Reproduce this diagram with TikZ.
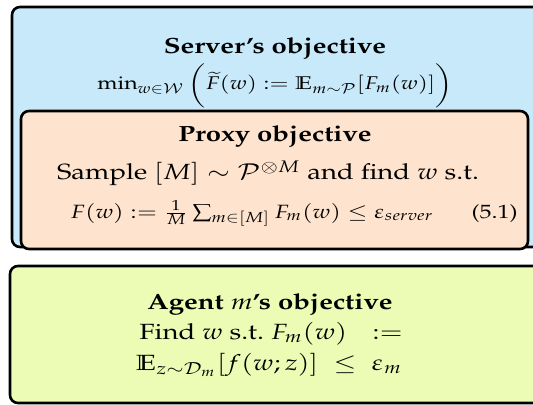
\documentclass[tikz,border=0pt]{standalone}
\usepackage[T1]{fontenc}
\usepackage{amsmath}
\usepackage{amssymb}
\usepackage{mathpazo}
\usepackage{graphicx}
\usepackage{tikz}
\definecolor{serverblue}{RGB}{199,233,249}
\definecolor{proxypeach}{RGB}{254,228,206}
\definecolor{agentgreen}{RGB}{237,252,181}
\newcommand{\widetxt}[1]{\scalebox{1.25}[1]{#1}}

\begin{document}
\begin{tikzpicture}[x=0.5pt,y=-0.5pt]
		\tikzset{objbox/.style={draw=black,line width=1.3pt,rounded corners=4pt},
			titletext/.style={anchor=base,inner sep=0pt,font=\fontsize{11}{13.5}\selectfont\bfseries},
			objtext/.style={anchor=base,inner sep=0pt,font=\fontsize{11}{13.5}\selectfont},
			eqtext/.style={anchor=base,inner sep=0pt,font=\fontsize{9.6}{12}\selectfont}};
		\useasboundingbox (0,0) rectangle (533,405);
		\clip (0,0) rectangle (533,405);
		% server box with the proxy box inside
		\draw[objbox,fill=serverblue] (12,7) rectangle (580,247);
		\draw[objbox,fill=proxypeach] (21,111) rectangle (528,249);
		\node[titletext] (servertitle) at (275,54) {\widetxt{Server's objective}};
		\node[objtext,font=\fontsize{9.2}{12}\selectfont] (servereq) at (275,90) {\widetxt{$\min_{w\in\mathcal{W}}\bigg(\widetilde{F}(w):=\mathbb{E}_{m\sim\mathcal{P}}[F_m(w)]\bigg)$}};
		\node[titletext] (proxytitle) at (275,142) {\widetxt{Proxy objective}};
		\node[objtext] (proxytext) at (268,180) {\widetxt{Sample $[M]\sim\mathcal{P}^{\otimes M}$ and find $w$ s.t.}};
		\node[eqtext] (proxyeq) at (252,218) {\widetxt{$F(w):=\frac{1}{M}\sum_{m\in[M]}F_m(w)\leq\varepsilon_{server}$}};
		\node[eqtext,anchor=base east] (eqnum) at (518,218) {\widetxt{(5.1)}};
		% agent box
		\draw[objbox,fill=agentgreen] (10,266) rectangle (580,403);
		\node[titletext] (agenttitle) at (270,309) {\widetxt{Agent $m$'s objective}};
		\node[objtext] (agentfind) at (271,339) {\widetxt{Find $w$ s.t.\ $F_m(w)\hspace{7pt}:=$}};
		\node[objtext] (agentbound) at (269,370) {\widetxt{$\mathbb{E}_{z\sim\mathcal{D}_m}[f(w;z)]\;\leq\;\varepsilon_m$}};
	\end{tikzpicture}
\end{document}
